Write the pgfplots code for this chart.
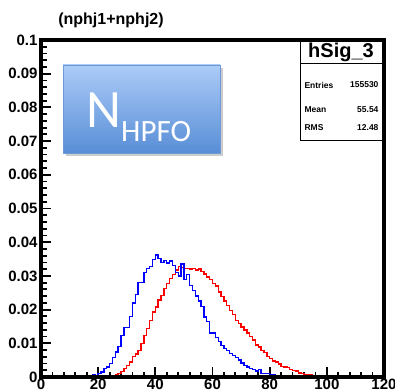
\documentclass[border=0pt]{standalone}
\usepackage{pgfplots}
\pgfplotsset{compat=1.18}
\usepackage{fontspec}
\setmainfont{Liberation Sans}
\newfontfamily\calib{Carlito}
\definecolor{boxtop}{RGB}{172,203,248}
\definecolor{boxbot}{RGB}{88,142,214}
\definecolor{boxedge}{RGB}{110,155,215}
\pgfplotstableread{
x y
0 0
17 0.0003
18 0.0006
19 0.0005
20 0.001
21 0.0015
22 0.0025
23 0.003
24 0.004
25 0.0057
26 0.0074
27 0.009
28 0.0124
29 0.0147
30 0.0147
31 0.018
32 0.022
33 0.0245
34 0.028
35 0.028
36 0.031
37 0.0322
38 0.0328
39 0.0348
40 0.0362
41 0.0352
42 0.034
43 0.0345
44 0.0338
45 0.0344
46 0.033
47 0.031
48 0.030
49 0.0335
50 0.029
51 0.0305
52 0.0272
53 0.0257
54 0.024
55 0.0225
56 0.021
57 0.0178
58 0.0165
59 0.013
60 0.013
61 0.0118
62 0.0105
63 0.0094
64 0.0085
65 0.0079
66 0.007
67 0.0064
68 0.0058
69 0.005
70 0.0042
71 0.0035
72 0.003
73 0.0026
74 0.0022
75 0.0018
76 0.0022
77 0.0011
78 0.0011
79 0.0011
80 0.0008
81 0.0006
82 0.0004
83 0.0004
84 0.0004
85 0.0004
86 0
120 0
}\bluedata
\pgfplotstableread{
x y
0 0
19 0.0003
20 0
24 0.0002
25 0.0004
26 0.0006
27 0.001
28 0.0016
29 0.0026
30 0.0035
31 0.0045
32 0.006
33 0.0068
34 0.0079
35 0.010
36 0.0124
37 0.0144
38 0.0168
39 0.0193
40 0.0208
41 0.0228
42 0.0242
43 0.0263
44 0.0278
45 0.0293
46 0.0305
47 0.0317
48 0.0328
49 0.0325
50 0.0322
51 0.0322
52 0.032
53 0.0322
54 0.0318
55 0.032
56 0.0313
57 0.0306
58 0.0297
59 0.029
60 0.0278
61 0.027
62 0.0252
63 0.0238
64 0.0226
65 0.0213
66 0.0198
67 0.0186
68 0.0168
69 0.0158
70 0.0148
71 0.014
72 0.013
73 0.012
74 0.011
75 0.0095
76 0.0089
77 0.0078
78 0.0072
79 0.006
80 0.0055
81 0.0048
82 0.0045
83 0.0038
84 0.0032
85 0.003
86 0.0028
87 0.0022
88 0.002
89 0.0018
90 0.0012
91 0.001
92 0.0008
93 0.0008
94 0.0006
95 0.0005
96 0
120 0
}\reddata
\begin{document}
\begin{tikzpicture}
\path[use as bounding box] (0pt,0pt) rectangle (395pt,391pt);
\begin{axis}[
  at={(41pt,14pt)}, anchor=south west,
  scale only axis, width=343pt, height=337pt,
  xmin=0, xmax=120, ymin=0, ymax=0.1,
  axis line style={line width=4pt},
  xtick={0,20,...,120}, ytick={0,0.01,...,0.1},
  minor tick num=4,
  tick align=inside, xtick pos=bottom, ytick pos=left,
  major tick length=10pt, minor tick length=5.5pt,
  every major tick/.append style={line width=1.8pt, black},
  every minor tick/.append style={line width=1.8pt, black},
  scaled y ticks=false,
  /pgf/number format/assume math mode=true,
  yticklabel style={/pgf/number format/fixed, /pgf/number format/precision=2, xshift=0pt},
  ticklabel style={font=\fontsize{15}{15}\selectfont\bfseries},
  xticklabel style={yshift=2pt},
  clip=false,
]
\addplot[red, line width=1.4pt, const plot] table[x=x,y=y] {\reddata};
\addplot[blue, line width=1.4pt, const plot] table[x=x,y=y] {\bluedata};
\draw[line width=4pt] (rel axis cs:0,0) rectangle (rel axis cs:1,1);
\end{axis}
% title
\node[font=\fontsize{16}{16}\selectfont\bfseries] at (111pt,371pt) {(nphj1+nphj2)};
% stats box
\fill[white] (300pt,251pt) rectangle (381pt,349pt);
\draw[line width=0.9pt] (300pt,251pt) rectangle (382pt,351pt);
\draw[line width=0.9pt] (300pt,328pt) -- (382pt,328pt);
\node[font=\fontsize{20}{20}\selectfont\bfseries] at (341pt,339pt) {hSig\_3};
\node[font=\fontsize{8.5}{8.5}\selectfont\bfseries, anchor=west] at (301pt,306pt) {Entries};
\node[font=\fontsize{8.5}{8.5}\selectfont\bfseries, anchor=east] at (382pt,306pt) {155530};
\node[font=\fontsize{8.5}{8.5}\selectfont\bfseries, anchor=west] at (301pt,281pt) {Mean};
\node[font=\fontsize{8.5}{8.5}\selectfont\bfseries, anchor=east] at (382pt,281pt) {55.54};
\node[font=\fontsize{8.5}{8.5}\selectfont\bfseries, anchor=west] at (301pt,263pt) {RMS};
\node[font=\fontsize{8.5}{8.5}\selectfont\bfseries, anchor=east] at (382pt,263pt) {12.48};
% N_HPFO box
\fill[black!20] (66pt,235pt) rectangle (223pt,323pt);
\shade[top color=boxtop, bottom color=boxbot] (63pt,238pt) rectangle (220pt,326pt);
\draw[line width=0.6pt, boxedge] (63pt,238pt) rectangle (220pt,326pt);
\node[white, anchor=base west, inner sep=0pt] at (86pt,263pt) {\calib\fontsize{54}{54}\selectfont N};
\node[white, anchor=base west, inner sep=0pt] at (121pt,249pt) {\calib\fontsize{31}{31}\selectfont HPFO};
\end{tikzpicture}
\end{document}
